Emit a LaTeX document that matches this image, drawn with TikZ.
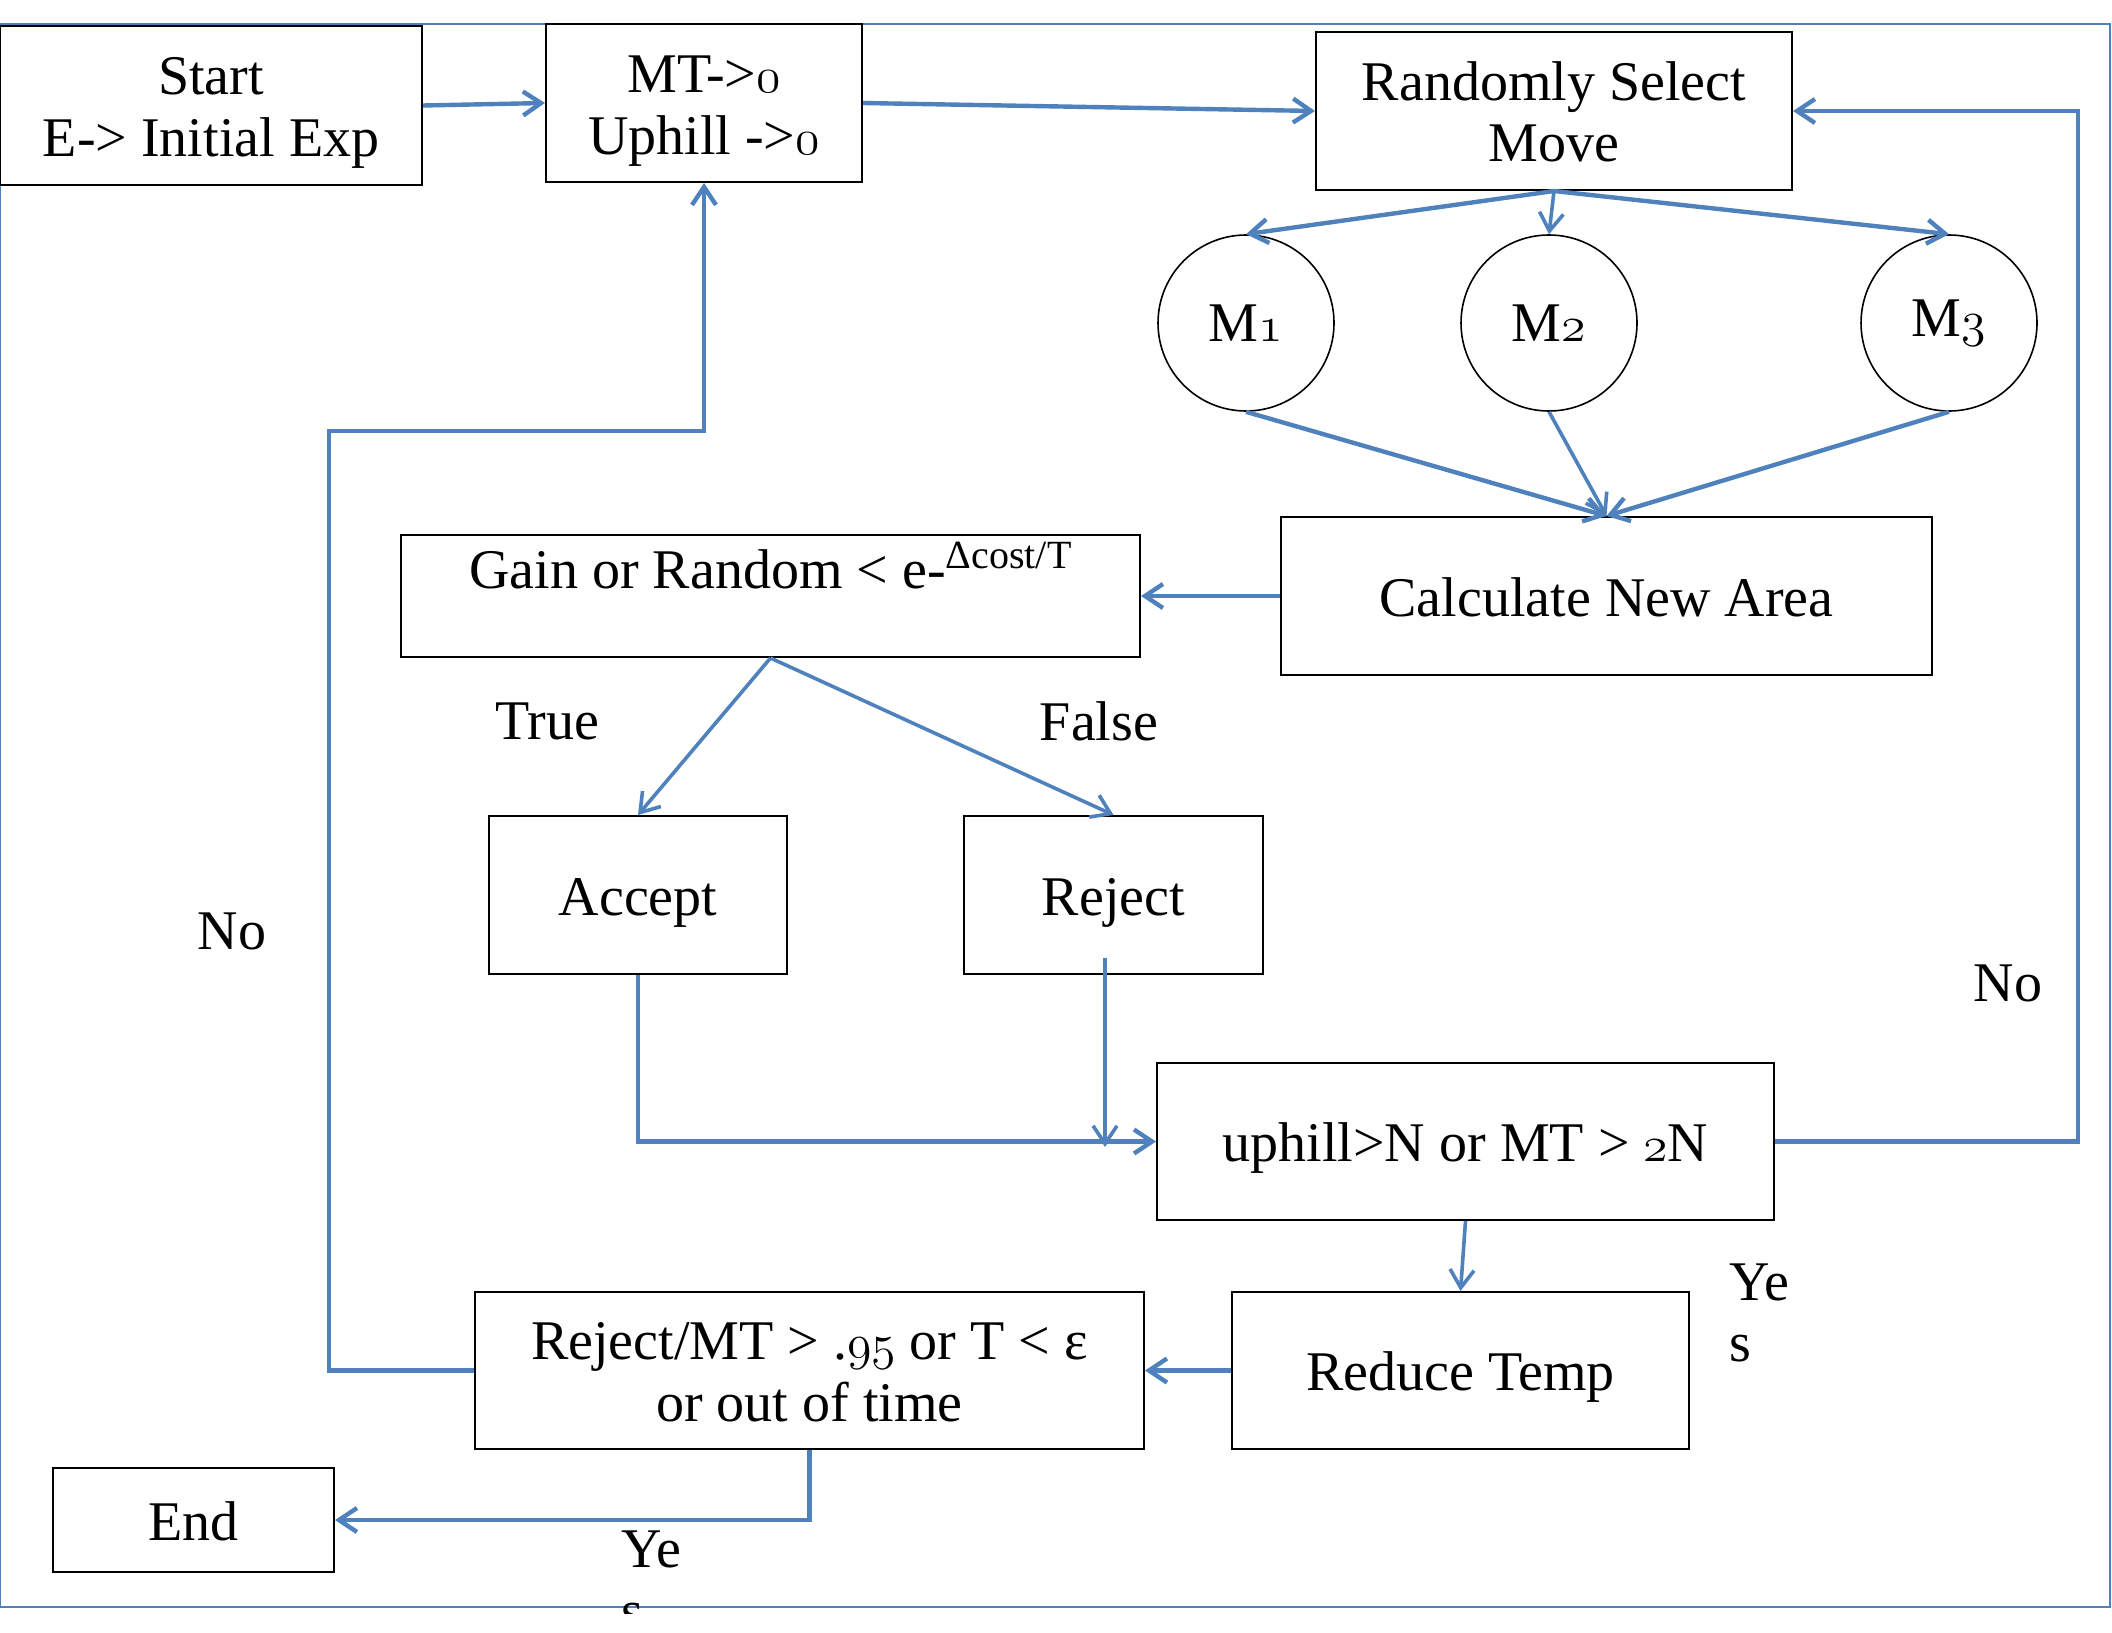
\documentclass[tikz,border=0pt]{standalone}
\usepackage{fontspec}
\setmainfont{Liberation Serif}
\usetikzlibrary{arrows.meta}
\definecolor{flow}{RGB}{79,129,189}
\newcommand\osn[1]{{\fontencoding{OML}\fontfamily{lmm}\fontseries{b}\fontshape{it}\fontsize{33}{31}\selectfont #1}}
\tikzset{
  txt/.style={font=\fontsize{28}{31}\selectfont, inner sep=0pt, align=center},
  box/.style={txt, draw=black, line width=1pt, text height=20pt, text depth=0pt},
  box2/.style={box, text height=51pt},
  mcirc/.style={txt, draw=black, line width=0.8pt, circle},
  conn/.style={draw=flow, line width=2.2pt, -{Straight Barb[length=9pt,width=12pt]}},
  thin conn/.style={conn, line width=1.8pt},
}
\begin{document}
\begin{tikzpicture}[x=0.5pt,y=-0.5pt]
\useasboundingbox (0,0) rectangle (2112,1632);
% outer frame
\draw[flow, line width=0.6pt] (0,24) rectangle (2110,1607);

% nodes
\node[box2, minimum width=211pt, minimum height=79.5pt] (start) at (211,105.5) {Start\\E-> Initial Exp};
\node[box2, minimum width=158pt, minimum height=79pt] (mt) at (704,103) {MT->\osn{0}\\Uphill ->\osn{0}};
\node[box2, minimum width=238pt, minimum height=79pt] (rsm) at (1554,111) {Randomly Select\\Move};
\node[mcirc, minimum size=88pt] (m1) at (1246,323) {M\osn{1}};
\node[mcirc, minimum size=88pt] (m2) at (1549,323) {M\osn{2}};
\node[mcirc, minimum size=88pt] (m3) at (1949,323) {M\osn{3}};
\node[box, minimum width=325.5pt, minimum height=79pt] (cna) at (1606.5,596) {Calculate New Area};
\node[box, minimum width=369.5pt, minimum height=61pt] (gain) at (770.5,596) {};
\node[txt] (gaintxt) at (770.5,566) {Gain or Random < e-\raisebox{10pt}{\fontsize{20}{20}\selectfont Δcost/T}};
\node[box, minimum width=149pt, minimum height=79pt] (accept) at (638,895) {Accept};
\node[box, minimum width=149.5pt, minimum height=79pt] (reject) at (1113.5,895) {Reject};
\node[box, minimum width=308.5pt, minimum height=78.5pt] (uphill) at (1465.5,1141.5) {uphill>N or MT > \osn{2}N};
\node[box, minimum width=228.5pt, minimum height=78.5pt] (reduce) at (1460.5,1370.5) {Reduce Temp};
\node[box2, minimum width=334.5pt, minimum height=78.5pt] (rmt) at (809.5,1370.5) {Reject/MT > .\osn{95} or T < ε\\or out of time};
\node[box, minimum width=140.5pt, minimum height=52pt] (end) at (193.5,1520) {End};

% labels
\node[txt] (ltrue) at (547,721) {True};
\node[txt] (lfalse) at (1099,721) {False};
\node[txt] (lnoleft) at (232,931) {No};
\node[txt] (lnoright) at (2008,983) {No};
\node[txt, anchor=base west] (lyesa) at (1729,1300) {Ye};
\node[txt, anchor=base west] (lyesb) at (1729,1361) {s};
\begin{scope}
\clip (0,0) rectangle (2112,1613);
\node[txt, anchor=base west] (lyesc) at (621,1567) {Ye};
\node[txt, anchor=base west] (lyesd) at (621,1629) {s};
\end{scope}

% helper coordinates
\coordinate (rloop) at (2078,1141.5);
\coordinate (lloop) at (329,1370.5);
\coordinate (lup) at (329,431);
\coordinate (rejtop) at (1105,958);
\coordinate (rejbot) at (1105,1147);

% connectors
\draw[conn] (start.east) -- (mt.west);
\draw[conn] (mt.east) -- (rsm.west);
\draw[conn] (rsm.south) -- (m1.north);
\draw[thin conn] (rsm.south) -- (m2.north);
\draw[conn] (rsm.south) -- (m3.north);
\draw[conn] (m1.south) -- (cna.north);
\draw[thin conn] (m2.south) -- (cna.north);
\draw[conn] (m3.south) -- (cna.north);
\draw[conn] (cna.west) -- (gain.east);
\draw[thin conn] (gain.south) -- (accept.north);
\draw[thin conn] (gain.south) -- (reject.north);
\draw[conn] (accept.south) |- (uphill.west);
\draw[thin conn] (rejtop) -- (rejbot);
\draw[conn] (uphill.east) -- (rloop) |- (rsm.east);
\draw[thin conn] (uphill.south) -- (reduce.north);
\draw[conn] (reduce.west) -- (rmt.east);
\draw[conn] (rmt.west) -- (lloop) -- (lup) -| (mt.south);
\draw[conn] (rmt.south) |- (end.east);
\end{tikzpicture}
\end{document}
